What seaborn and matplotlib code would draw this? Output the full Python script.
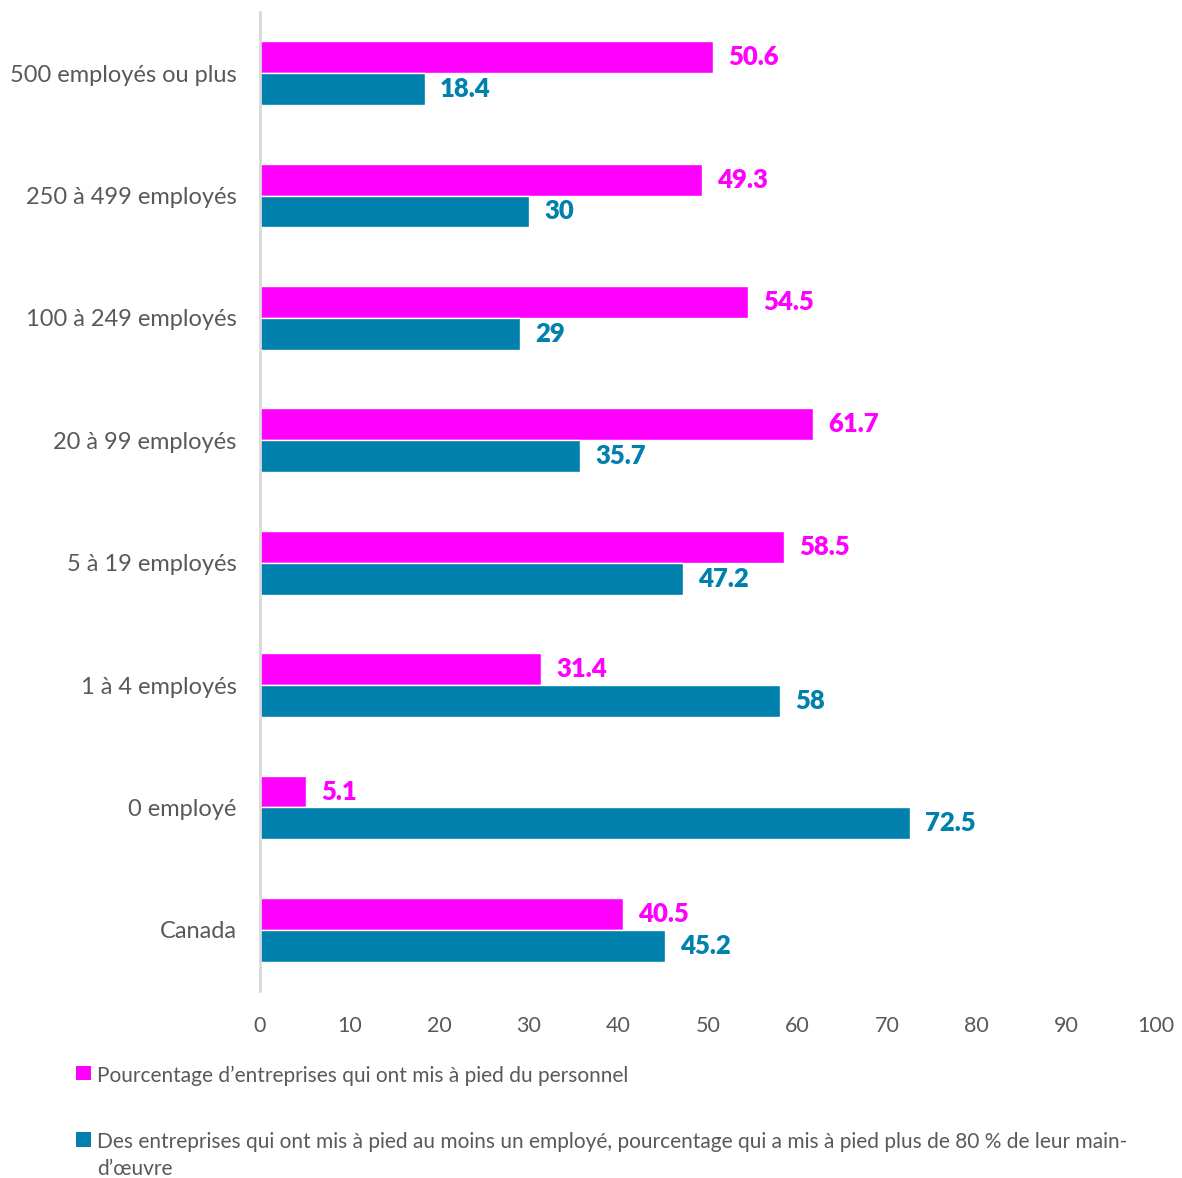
import numpy as np
import pandas as pd
import matplotlib
matplotlib.use("Agg")
import matplotlib.pyplot as plt
import seaborn as sns

categories = ["500 employés ou plus", "250 à 499 employés", "100 à 249 employés",
              "20 à 99 employés", "5 à 19 employés", "1 à 4 employés",
              "0 employé", "Canada"]
series_names = ["Pourcentage d\u2019entreprises qui ont mis à pied du personnel",
                "Des entreprises qui ont mis à pied au moins un employé, pourcentage qui a mis à pied plus de 80 % de leur main-\nd\u2019œuvre"]
laid_off = [50.6, 49.3, 54.5, 61.7, 58.5, 31.4, 5.1, 40.5]
over_80 = [18.4, 30, 29, 35.7, 47.2, 58, 72.5, 45.2]
x_ticks = [0, 10, 20, 30, 40, 50, 60, 70, 80, 90, 100]

colors = ["#FF00FF", "#0080AD"]
grey = "#595959"

df = pd.DataFrame({
    "cat": categories * 2,
    "value": laid_off + over_80,
    "series": [series_names[0]] * len(categories) + [series_names[1]] * len(categories),
})

sns.set_style("white")
plt.rcParams["font.family"] = ["Lato", "DejaVu Sans"]

fig = plt.figure(figsize=(11.82, 11.78), dpi=100)
ax = fig.add_axes([260 / 1182, 1 - 991 / 1178, 896 / 1182, 979 / 1178])

sns.barplot(data=df, y="cat", x="value", hue="series", orient="h",
            palette=colors, width=0.52, saturation=1, ax=ax, legend=True)

for cont, col in zip(ax.containers, colors):
    ax.bar_label(cont, labels=[f"{v:g}" for v in cont.datavalues], padding=11,
                 color=col, fontsize=18.5, fontweight="heavy")

ax.set_xlim(0, 100)
ax.set_ylim(7.5, -0.5)
ax.set_xticks(x_ticks)
ax.set_xlabel("")
ax.set_ylabel("")
ax.tick_params(axis="x", length=0, labelsize=15.5, labelcolor=grey, pad=18)
ax.tick_params(axis="y", length=5, width=1.2, color="#D9D9D9", labelsize=17, labelcolor=grey, pad=12)

for s in ["top", "right", "bottom"]:
    ax.spines[s].set_visible(False)
ax.spines["left"].set_color("#D9D9D9")
ax.spines["left"].set_linewidth(2)

leg = ax.legend(loc="upper left", bbox_to_anchor=(-192 / 896, -0.068), frameon=False,
                fontsize=15, labelcolor=grey, handlelength=0.7, handleheight=0.7,
                handletextpad=0.3, labelspacing=2.2, borderaxespad=0)
for h in leg.legend_handles:
    h.set_edgecolor("none")
for t in leg.get_texts():
    t.set_linespacing(1.45)
# put the square next to the first line of a wrapped label
for col in leg._legend_handle_box.get_children():
    for row in col.get_children():
        row.align = "top"

fig.savefig("out.png", dpi=100)
